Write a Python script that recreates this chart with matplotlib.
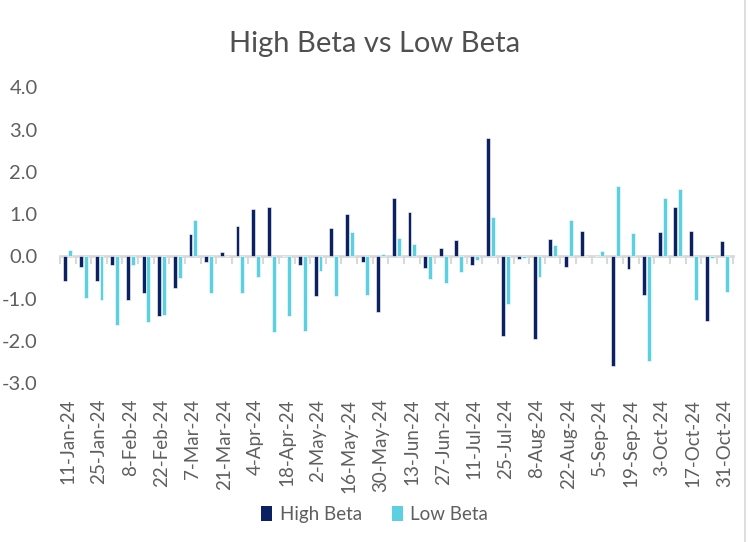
import matplotlib
matplotlib.use("Agg")
import matplotlib.pyplot as plt
import numpy as np
from matplotlib.lines import Line2D
from matplotlib.patches import Patch

dates = ["11-Jan-24", "18-Jan-24", "25-Jan-24", "1-Feb-24", "8-Feb-24", "15-Feb-24",
         "22-Feb-24", "29-Feb-24", "7-Mar-24", "14-Mar-24", "21-Mar-24", "28-Mar-24",
         "4-Apr-24", "11-Apr-24", "18-Apr-24", "25-Apr-24", "2-May-24", "9-May-24",
         "16-May-24", "23-May-24", "30-May-24", "6-Jun-24", "13-Jun-24", "20-Jun-24",
         "27-Jun-24", "4-Jul-24", "11-Jul-24", "18-Jul-24", "25-Jul-24", "1-Aug-24",
         "8-Aug-24", "15-Aug-24", "22-Aug-24", "29-Aug-24", "5-Sep-24", "12-Sep-24",
         "19-Sep-24", "26-Sep-24", "3-Oct-24", "10-Oct-24", "17-Oct-24", "24-Oct-24",
         "31-Oct-24"]

high_beta = [-0.58, -0.26, -0.58, -0.21, -1.02, -0.86, -1.40, -0.74, 0.52, -0.13,
             0.10, 0.71, 1.13, 1.18, 0.00, -0.20, -0.93, 0.67, 1.00, -0.13,
             -1.31, 1.39, 1.04, -0.27, 0.19, 0.38, -0.21, 2.79, -1.87, -0.07,
             -1.96, 0.42, -0.26, 0.61, 0.00, -2.60, -0.30, -0.90, 0.58, 1.18,
             0.61, -1.52, 0.36]

low_beta = [0.15, -0.97, -1.04, -1.63, -0.19, -1.56, -1.38, -0.50, 0.87, -0.86,
            0.00, -0.86, -0.48, -1.78, -1.40, -1.75, -0.34, -0.93, 0.57, -0.90,
            0.07, 0.43, 0.29, -0.53, -0.63, -0.37, -0.09, 0.94, -1.12, -0.03,
            -0.49, 0.26, 0.86, 0.00, 0.14, 1.66, 0.56, -2.48, 1.38, 1.60,
            -1.02, -0.03, -0.83]

yticks = [-3.0, -2.0, -1.0, 0.0, 1.0, 2.0, 3.0, 4.0]

navy = "#0b2161"
cyan = "#5ccfe0"
grey_text = "#5f5f5f"
line_grey = "#d9d9d9"

plt.rcParams['font.family'] = ['Lato', 'DejaVu Sans']

fig = plt.figure(figsize=(7.49, 5.42), dpi=100)
ax = fig.add_axes([0.080, 0.2926, 0.898, 0.5464])

x = np.arange(len(dates))
w = 0.25
ax.bar(x - 0.15, high_beta, width=w, color=navy, edgecolor="white", linewidth=0.4,
       label="High Beta", zorder=3)
ax.bar(x + 0.16, low_beta, width=w, color=cyan, edgecolor="white", linewidth=0.4,
       label="Low Beta", zorder=3)

ax.set_xlim(-0.5, len(dates) - 0.5)
ax.set_ylim(-3, 4)
ax.set_yticks(yticks)
ax.set_yticklabels([f"{v:.1f}" for v in yticks])
ax.tick_params(axis="y", length=0, labelsize=14.5, labelcolor=grey_text, pad=16)

for s in ["top", "right", "left"]:
    ax.spines[s].set_visible(False)
ax.spines["bottom"].set_position(("data", 0))
ax.spines["bottom"].set_color(line_grey)
ax.spines["bottom"].set_linewidth(2)
ax.spines["bottom"].set_zorder(2)
ax.set_xticks([])
ax.set_xticks(np.arange(-0.5, len(dates), 1.0), minor=True)
ax.tick_params(axis="x", which="minor", direction="out", length=6, width=1.5,
               color=line_grey)

sec = ax.secondary_xaxis("bottom")
sec.spines["bottom"].set_visible(False)
idx = list(range(0, len(dates), 2))
sec.set_xticks(idx)
sec.set_xticklabels([dates[i] for i in idx], rotation=90)
sec.tick_params(axis="x", length=0, labelsize=13.5, labelcolor=grey_text, pad=11)

fig.text(0.5, 0.918, "High Beta vs Low Beta", ha="center", va="center",
         fontsize=21, color="#505050")

handles = [Patch(facecolor=navy, label="High Beta"), Patch(facecolor=cyan, label="Low Beta")]
fig.legend(handles=handles, loc="center", bbox_to_anchor=(0.5, 0.051), ncol=2,
           frameon=False, prop={"size": 13.5}, handlelength=0.6,
           handleheight=0.9, handletextpad=0.4, columnspacing=1.6, labelcolor=grey_text)

fig.add_artist(Line2D([0.9953, 0.9953], [0.0, 1.0], color=line_grey, lw=1.2,
                      transform=fig.transFigure))

fig.savefig("out.png", dpi=100)
